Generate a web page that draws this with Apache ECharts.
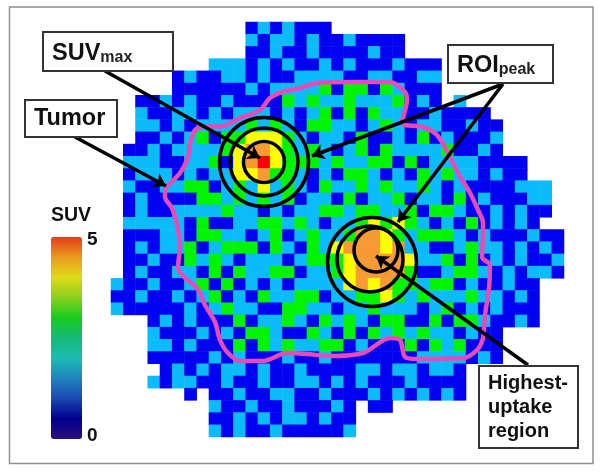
<!doctype html>
<html>
	<head>
		<meta charset="UTF-8">
		<title>SUV map</title>
		<style>
			html, body { margin: 0; padding: 0; background: #fff; }
			#chart { width: 601px; height: 472px; }
		</style>
	</head>
	<body>
		<div id="chart"></div>
		<script src="https://cdn.jsdelivr.net/npm/echarts@6/dist/echarts.min.js"></script>
		<script type="text/javascript">
			// one string per row, one letter per voxel, '.' = outside the scan
			var voxelRows = [
				'...........bcbcbbb',
				'...........cbccbcbbcbbbb',
				'...........bbcbbcbbbbcbb',
				'........cccbcbcbbcbcbbbcbbb',
				'.....bcbbccbcbbccccbbccbbcc',
				'.....bbbbbbcbccccgbggbgcbbb',
				'..bbcbcbbcbbbbgcgccgcccgbcb.c',
				'..cbbccbcbcccbcbcgbgbgccbbcbbbb',
				'..ccbcbccccgcgcbggccbcgcbccbbcbb',
				'..bbcbcgbggyyygcbccbgbbcbgbcbbbc',
				'.bbcbccccgyooygcgcbcgbgccccgbbcb',
				'.cccbbccgbyorygggcgccggbgbccccbbbb',
				'.bcccbcbccyyoggcbcbggcbcbgcgccbcbb',
				'.cbbccggbcgcycgcbgccgcgccgcbcbbbbccc',
				'.bcbbbbggcgcgcgbccbgbccgbccbgbcbbbcc',
				'.bcbbccccgccbcbccggcggccgbggcbbcbcbb',
				'.cccccbgbbccggcgcbccgygygcbcbgbcbcb',
				'.bbbccbggccbcgbcgccgooygcgggcbcbbbcbb',
				'.bcbccgbcgggbgcbgcyoooyoccbbcgccbcbcb',
				'.bbcbbgcgcbcccbcgggyooooyccgbgbcbcbbc',
				'.bcbbccbgbgccggbccgyoooogbbcggcbcbccb',
				'cbbcbbcgbgbcbcbccccyoyoggcggbcbbcbb',
				'bbcbbcbcgbcbgccggbccggygcgcccgccbcb',
				'cbbbbbcbcgccbbggccbccgcccbcgbcbcbbb',
				'...bcbcbbbgbccgcbgcgcbggbbgbggcbbcb',
				'...cbbbcbcbggcbbgcbgbgcgcgccbcbb',
				'...ccbcbbbgbgcgccggbcbbbgbgcgbbb',
				'...bbbbbcbcbbbcbbcbbbbbbbccccbcb',
				'....bcbcbccbcbbcbbbbccbccbccb',
				'...cbccbbcbbcbbccbcbcbbbcbbbb',
				'......b.bbcbbccbbcbbbcbcbcbcb',
				'........cbbcbbcbbbcb.bb',
				'........bbcbcbccbcbb',
				'........cbcbbcbbbbbc'
			];
			var suvLevels = { b: 0.9, c: 1.7, g: 2.6, y: 3.6, o: 4.2, r: 4.8 };
			var colCount = 37;

			// overlay marks, in picture units
			var tumorOutline = [
				[165,188],[180,173],[188,157],[190,143],[195,130],[203,127],[223,126],[240,118],[260,110],
				[270,98],[282,92],[300,88],[317,83],[350,82],[390,82],[405,92],[407,100],[402,123],[423,127],
				[437,135],[450,157],[458,173],[470,193],[478,210],[483,223],[483,232],[482,257],[490,265],
				[489,288],[485,315],[483,338],[477,350],[463,358],[417,359],[405,357],[400,340],[390,338],
				[363,353],[330,356],[307,354],[287,353],[263,361],[240,361],[228,353],[220,340],[215,322],
				[205,305],[197,288],[185,278],[178,268],[180,245],[177,225],[172,208],[165,197],[165,188]
			];
			var rings = [
				[264,162,89],[264,162,68],[264,162,41],
				[372,262,89],[370,259,66],[376,250,44]
			];
			var leaders = [
				[[105,71],[260,158]],
				[[75,137],[166,186]],
				[[503,84],[312,156]],
				[[503,84],[398,222]],
				[[528,365],[376,256]]
			];

			var xCats = [];
			for (var i = 0; i < colCount; i++) xCats.push(i);
			var yCats = voxelRows.map(function(r, j) { return j; });
			var voxels = [];
			voxelRows.forEach(function(row, j) {
				for (var c = 0; c < row.length; c++) {
					if (row[c] !== '.') voxels.push([c, j, suvLevels[row[c]]]);
				}
			});

			var boldFont = '"Liberation Sans", Arial, sans-serif';
			function label(x, y, text, size, align) {
				return {
					type: 'text', z: 102, x: x, y: y,
					style: { text: text, fontFamily: boldFont, fontWeight: 'bold', fontSize: size, fill: '#111', align: align || 'left', verticalAlign: 'middle' }
				};
			}
			function box(x, y, w, h) {
				return {
					type: 'rect', z: 101, shape: { x: x, y: y, width: w, height: h },
					style: { fill: '#fff', stroke: '#333', lineWidth: 2 }
				};
			}
			function subLabel(x, y, main, sub) {
				return {
					type: 'text', z: 102, x: x, y: y,
					style: {
						text: '{a|' + main + '}{b|' + sub + '}',
						verticalAlign: 'middle',
						rich: {
							a: { fontFamily: boldFont, fontWeight: 'bold', fontSize: 23.5, fill: '#111', lineHeight: 28, verticalAlign: 'bottom' },
							b: { fontFamily: boldFont, fontWeight: 'bold', fontSize: 16, fill: '#222', lineHeight: 16, verticalAlign: 'bottom' }
						}
					}
				};
			}

			var chart = echarts.init(document.getElementById('chart'), null, { renderer: 'canvas' });
			chart.setOption({
				animation: false,
				backgroundColor: '#fff',
				grid: [
					{ left: 111, top: 22, width: 453, height: 415 },
					{ left: 0, top: 0, width: 601, height: 472 }
				],
				xAxis: [
					{ type: 'category', data: xCats, gridIndex: 0, show: false },
					{ type: 'value', gridIndex: 1, min: 0, max: 601, show: false }
				],
				yAxis: [
					{ type: 'category', data: yCats, gridIndex: 0, inverse: true, show: false },
					{ type: 'value', gridIndex: 1, min: 0, max: 472, inverse: true, show: false }
				],
				visualMap: [
					{
						type: 'piecewise', show: false, seriesIndex: 0, dimension: 2,
						pieces: [
							{ min: 0, max: 1.2, color: '#0202f0' },
							{ min: 1.2, max: 2.2, color: '#0cbcfa' },
							{ min: 2.2, max: 3.2, color: '#02f402' },
							{ min: 3.2, max: 3.9, color: '#fcfc04' },
							{ min: 3.9, max: 4.5, color: '#f89a34' },
							{ min: 4.5, max: 5, color: '#f80404' }
						]
					},
					{
						// colour bar only, drives no series
						type: 'continuous', seriesIndex: [], min: 0, max: 5,
						left: 51, top: 237, itemWidth: 31, itemHeight: 202, padding: 0,
						calculable: false, realtime: false, text: ['', ''], showLabel: false,
						inRange: { color: ['#2c0f7c', '#00008e', '#1a48b0', '#1f84bc', '#1dbcb4', '#16b878', '#18cc20', '#8ad01e', '#e0da18', '#ea9a20', '#e63c18'] }
					}
				],
				series: [
					{
						type: 'heatmap', xAxisIndex: 0, yAxisIndex: 0, data: voxels,
						itemStyle: { borderWidth: 0 }, emphasis: { disabled: true }, progressive: 0
					},
					{
						type: 'line', xAxisIndex: 1, yAxisIndex: 1, data: tumorOutline, z: 3,
						symbol: 'none', smooth: 0.3, silent: true,
						lineStyle: { color: '#e64bb8', width: 4.5 },
						markLine: {
							silent: true, symbol: ['none', 'arrow'], symbolSize: 12,
							label: { show: false },
							lineStyle: { color: '#000', type: 'solid', width: 3.5, opacity: 1 },
							data: leaders.map(function(l) {
								return [{ coord: l[0] }, { coord: l[1] }];
							})
						}
					},
					{
						type: 'scatter', xAxisIndex: 1, yAxisIndex: 1, data: rings, z: 4, silent: true,
						symbol: 'circle',
						symbolSize: function(v) { return v[2]; },
						itemStyle: { color: 'transparent', borderColor: '#000', borderWidth: 3.5, opacity: 1 }
					}
				],
				graphic: [
					{ type: 'rect', z: 100, shape: { x: 9.5, y: 7, width: 583.5, height: 456.5 }, style: { fill: 'transparent', stroke: '#8f8f8f', lineWidth: 1.5 } },
					box(43, 32, 130, 39),
					subLabel(52, 52, 'SUV', 'max'),
					box(25, 100, 92, 37),
					label(34, 119, 'Tumor', 23.5),
					box(448, 45, 105, 38),
					subLabel(457, 64, 'ROI', 'peak'),
					box(479, 366, 99, 82),
					label(488, 383, 'Highest-', 20),
					label(488, 407, 'uptake', 20),
					label(488, 431, 'region', 20),
					label(71, 216, 'SUV', 19.5, 'center'),
					label(87, 240, '5', 19),
					label(87, 436, '0', 19)
				]
			});
		</script>
	</body>
</html>
